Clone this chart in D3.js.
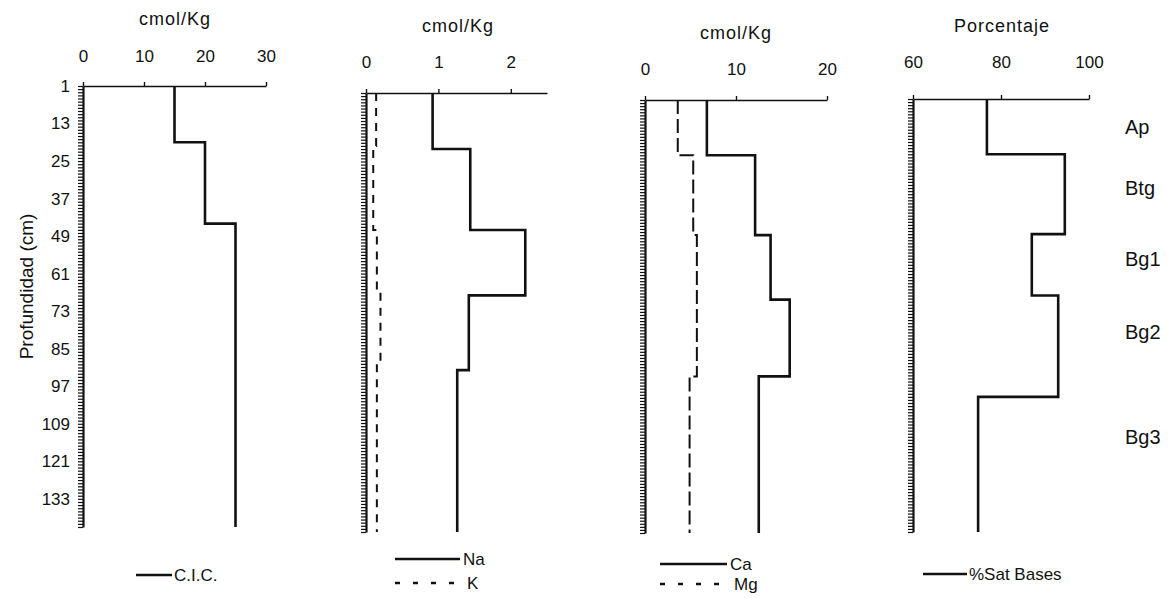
<!DOCTYPE html>
<html><head><meta charset="utf-8">
<script src="https://cdn.jsdelivr.net/npm/d3@7"></script>
<style>
body{margin:0;background:#fff;}
text{font-family:Arial,"Liberation Sans",sans-serif;fill:#111;}
</style></head>
<body>
<svg id="c" width="1169" height="598"></svg>
<script>
// ---------- data ----------
const depthMin = 1, depthMax = 142;
const depthLabels = [1,13,25,37,49,61,73,85,97,109,121,133];
const horizons = ["Ap","Btg","Bg1","Bg2","Bg3"];
const horizonDepths = [10,30,53,77,111];

const cicDepths = [1,19,45,142];
const cicValues = [15,20,25];

const naDepths = [1,19,45,66,90,142];
const naValues = [0.92,1.44,2.2,1.42,1.26];
const kDepths = [1,18,45,65,88,142];
const kValues = [0.14,0.10,0.15,0.20,0.15];

const caDepths = [1,19,45,66,91,142];
const caValues = [6.8,12.1,13.8,15.9,12.5];
const mgDepths = [1,19,45,91,142];
const mgValues = [3.6,5.3,5.7,4.9];

const satDepths = [1,19,45,65,98,142];
const satValues = [76.8,94.5,87.0,93.0,74.8];

const ticks1 = [0,10,20,30];
const ticks2 = [0,1,2];
const ticks3 = [0,10,20];
const ticks4 = [60,80,100];

// ---------- layout ----------
const svg = d3.select("#c");
const panels = [
  {x0:83, x1:266, top:86, bottom:527, domain:[0,30], ticks:ticks1, pad:20, title:"cmol/Kg", titleX:175, titleY:25,
   series:[{d:cicDepths,v:cicValues,dash:null,name:"C.I.C."}], yLabels:true,
   legend:{x0:136,x1:172,y:575,tx:174,gap:24}},
  {x0:366, x1:547, top:93, bottom:532, domain:[0,2.5], ticks:ticks2, pad:21, title:"cmol/Kg", titleX:458, titleY:32,
   series:[{d:naDepths,v:naValues,dash:null,name:"Na"},{d:kDepths,v:kValues,dash:"8,7",name:"K"}],
   legend:{x0:395,x1:460,y:559,tx:463,gap:24}},
  {x0:645, x1:827, top:100, bottom:533, domain:[0,20], ticks:ticks3, pad:21, title:"cmol/Kg", titleX:736, titleY:39,
   series:[{d:caDepths,v:caValues,dash:null,name:"Ca"},{d:mgDepths,v:mgValues,dash:"14,5",name:"Mg"}],
   legend:{x0:660,x1:727,y:564,tx:730,gap:20}},
  {x0:913, x1:1089, top:99, bottom:532, domain:[60,100], ticks:ticks4, pad:27, title:"Porcentaje", titleX:1002, titleY:32,
   series:[{d:satDepths,v:satValues,dash:null,name:"%Sat Bases"}],
   legend:{x0:923,x1:967,y:574,tx:969,gap:24}}
];

function stepPoints(depths, values){
  const pts = [];
  values.forEach((v,i)=>{ pts.push([v,depths[i]]); pts.push([v,depths[i+1]]); });
  return pts;
}

panels.forEach((p,pi)=>{
  const x = d3.scaleLinear().domain(p.domain).range([p.x0,p.x1]);
  const y = d3.scaleLinear().domain([depthMin,depthMax]).range([p.top,p.bottom]);
  const g = svg.append("g");

  // top axis
  const ax = g.append("g").attr("transform",`translate(0,${p.top})`)
    .call(d3.axisTop(x).tickValues(p.ticks).tickFormat(d=>String(d)).tickSize(4).tickSizeOuter(0).tickPadding(p.pad));
  ax.select(".domain").attr("stroke","#111").attr("stroke-width",1.6);
  ax.selectAll(".tick line").attr("stroke","#111").attr("stroke-width",1.4);
  ax.selectAll(".tick text").attr("font-size",17).attr("font-family","Arial").attr("fill","#111");

  // left axis with per-cm ticks
  const yAx = g.append("g").attr("transform",`translate(${p.x0},0)`)
    .call(d3.axisLeft(y).tickValues(d3.range(depthMin,depthMax+1)).tickSize(5).tickSizeOuter(0)
      .tickPadding(8).tickFormat(d=> (p.yLabels && depthLabels.includes(d)) ? d : ""));
  yAx.select(".domain").attr("stroke","#111").attr("stroke-width",2.2);
  yAx.selectAll(".tick line").attr("stroke","#111").attr("stroke-width",1.2);
  yAx.selectAll(".tick text").attr("font-size",17).attr("font-family","Arial").attr("fill","#111");

  // title
  g.append("text").attr("x",p.titleX).attr("y",p.titleY).attr("text-anchor","middle")
    .attr("font-size",18).attr("letter-spacing",1).text(p.title);

  // series
  const line = d3.line().x(d=>x(d[0])).y(d=>y(d[1]));
  p.series.forEach(s=>{
    g.append("path").attr("d",line(stepPoints(s.d,s.v)))
      .attr("fill","none").attr("stroke","#111")
      .attr("stroke-width", s.dash ? 2 : 2.6)
      .attr("stroke-dasharray", s.dash)
      .attr("stroke-linejoin","miter");
  });

  // legend
  p.series.forEach((s,si)=>{
    const ly = p.legend.y + si*p.legend.gap;
    g.append("line").attr("x1",p.legend.x0).attr("x2",p.legend.x1).attr("y1",ly).attr("y2",ly)
      .attr("stroke","#111").attr("stroke-width", s.dash ? 2.5 : 2.6)
      .attr("stroke-dasharray", s.dash ? "5,13" : null);
    g.append("text").attr("x",p.legend.tx + (s.dash?4:0)).attr("y",ly+6).attr("font-size",17).text(s.name);
  });

  if (p.yLabels){
    g.append("text").attr("transform",`translate(33,${(p.top+p.bottom)/2 - 20}) rotate(-90)`)
      .attr("text-anchor","middle").attr("font-size",19).text("Profundidad (cm)");
  }
  if (pi===3){
    const yh = d3.scaleLinear().domain([depthMin,depthMax]).range([p.top,p.bottom]);
    g.selectAll(".hz").data(horizons).join("text")
      .attr("x",1125).attr("y",(d,i)=>yh(horizonDepths[i])+7)
      .attr("font-size",20).text(d=>d);
  }
});
</script>
</body></html>
